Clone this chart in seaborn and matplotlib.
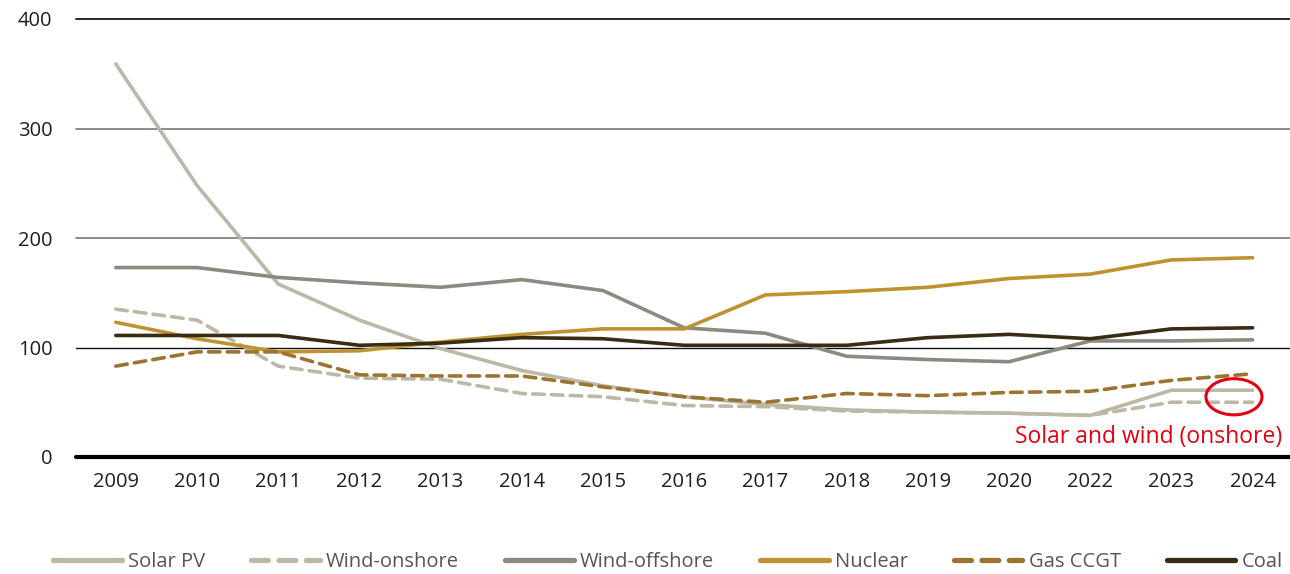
import pandas as pd
import numpy as np
import matplotlib
matplotlib.use("Agg")
import matplotlib.pyplot as plt
from matplotlib.patches import Ellipse
import seaborn as sns

years = ["2009", "2010", "2011", "2012", "2013", "2014", "2015", "2016",
         "2017", "2018", "2019", "2020", "2022", "2023", "2024"]

solar_pv = [359, 248, 158, 125, 99, 79, 65, 55, 48, 43, 41, 40, 38, 61, 61]
wind_onshore = [135, 125, 83, 72, 71, 58, 55, 47, 46, 42, 41, 40, 38, 50, 50]
wind_offshore = [173, 173, 164, 159, 155, 162, 152, 118, 113, 92, 89, 87, 106, 106, 107]
nuclear = [123, 108, 96, 97, 105, 112, 117, 117, 148, 151, 155, 163, 167, 180, 182]
gas_ccgt = [83, 96, 96, 75, 74, 74, 64, 55, 50, 58, 56, 59, 60, 70, 76]
coal = [111, 111, 111, 102, 104, 109, 108, 102, 102, 102, 109, 112, 108, 117, 118]

series = {
    "Solar PV": solar_pv,
    "Wind-onshore": wind_onshore,
    "Wind-offshore": wind_offshore,
    "Nuclear": nuclear,
    "Gas CCGT": gas_ccgt,
    "Coal": coal,
}

colors = {
    "Solar PV": "#bdb7a6",
    "Wind-onshore": "#bdb7a6",
    "Wind-offshore": "#8b8a7f",
    "Nuclear": "#bf9231",
    "Gas CCGT": "#9b7431",
    "Coal": "#382c15",
}
dashes = {
    "Solar PV": "",
    "Wind-onshore": (3.2, 2.0),
    "Wind-offshore": "",
    "Nuclear": "",
    "Gas CCGT": (3.2, 2.0),
    "Coal": "",
}

rows = []
for name, vals in series.items():
    for i, v in enumerate(vals):
        rows.append({"idx": i, "year": years[i], "value": v, "series": name})
df = pd.DataFrame(rows)

sns.set_style("white")
plt.rcParams["font.family"] = ["Open Sans", "DejaVu Sans"]

fig = plt.figure(figsize=(12.9, 5.74), dpi=100)
ax = fig.add_axes([76 / 1290, 1 - 457 / 574, 1 - 76 / 1290, (457 - 19) / 574])

sns.lineplot(data=df, x="idx", y="value", hue="series", style="series",
             palette=colors, dashes=dashes, linewidth=2.6, ax=ax,
             hue_order=list(series), style_order=list(series))
for ln in ax.lines:
    ln.set_dash_capstyle("round")
    ln.set_solid_capstyle("round")

ax.set_xlim(-0.49, len(years) - 1 + 0.46)
ax.set_ylim(0, 400)
ax.set_xticks(range(len(years)))
ax.set_xticklabels(years)
ax.set_yticks([0, 100, 200, 300, 400])
ax.set_xlabel("")
ax.set_ylabel("")
ax.tick_params(axis="both", length=0, labelsize=14.5, colors="#1e1e1e")
ax.tick_params(axis="y", pad=17)
ax.tick_params(axis="x", pad=11)
for s in ax.spines.values():
    s.set_visible(False)

ax.grid(axis="y", color="#777777", linewidth=1.0)
ax.set_axisbelow(True)
grid_cols = ["#000000", "#111111", "#777777", "#777777", "#000000"]
grid_lw = [3.0, 1.0, 1.2, 1.2, 1.2]
for gl, c, lw in zip(ax.yaxis.get_gridlines(), grid_cols, grid_lw):
    gl.set_color(c)
    gl.set_linewidth(lw)
    gl.set_clip_on(False)

# annotation
ax.add_patch(Ellipse((13.77, 55), 0.69, 33, fill=False, edgecolor="#e3000f",
                     linewidth=2.2, zorder=5))
ax.text(14.36, 18, "Solar and wind (onshore)", color="#e3000f", fontsize=16.5,
        ha="right", va="center")

handles, labels = ax.get_legend_handles_labels()
ax.get_legend().remove()
for h in handles:
    h.set_linewidth(3.8)
    h.set_dash_capstyle("round")
    h.set_solid_capstyle("round")
fig.legend(handles, labels, loc="center", bbox_to_anchor=(668 / 1290, 1 - 562 / 574),
           ncol=6, frameon=False, fontsize=14.5, handlelength=3.4,
           handletextpad=0.3, columnspacing=2.3, labelcolor="#555555")

fig.savefig("out.png", dpi=100)
